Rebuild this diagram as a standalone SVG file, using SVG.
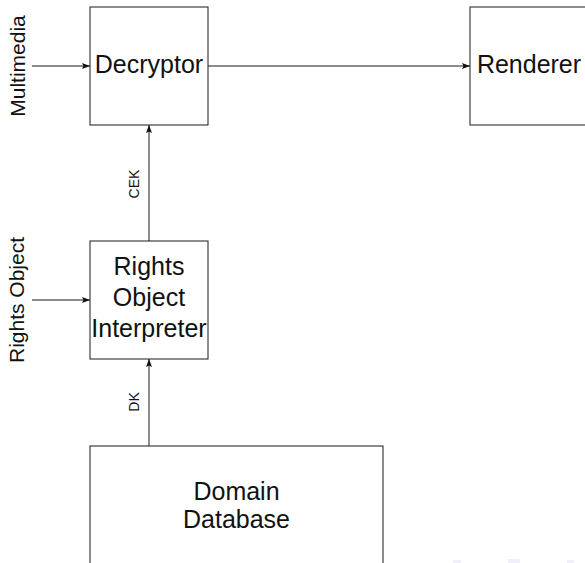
<svg xmlns="http://www.w3.org/2000/svg" width="585" height="563" viewBox="0 0 585 563">
  <defs>
    <style>
      .box { fill: #ffffff; stroke: #1a1a1a; stroke-width: 1; }
      .edge { fill: none; stroke: #1a1a1a; stroke-width: 1; }
      .big { font-family: "Liberation Sans", Arial, sans-serif; font-size: 25px; fill: #111; text-anchor: middle; }
      .side { font-family: "Liberation Sans", Arial, sans-serif; font-size: 21px; fill: #111; text-anchor: middle; }
      .small { font-family: "Liberation Sans", Arial, sans-serif; font-size: 14px; fill: #111; text-anchor: middle; }
      .nav { fill: #d4d4f2; opacity: 0.35; }
    </style>
    <marker id="arrow" viewBox="0 0 8 6" refX="8" refY="3" markerWidth="8" markerHeight="6" markerUnits="userSpaceOnUse" orient="auto">
      <path d="M0,0 L8,3 L0,6 L1.5,3 Z" fill="#111"/>
    </marker>
  </defs>

  <rect width="585" height="563" fill="#ffffff"/>

  <!-- nodes -->
  <g id="decryptor">
    <rect class="box" x="90" y="7" width="118" height="118"/>
    <text class="big" x="149" y="73">Decryptor</text>
  </g>

  <g id="renderer">
    <rect class="box" x="470" y="7" width="118" height="118"/>
    <text class="big" x="529" y="73">Renderer</text>
  </g>

  <g id="ro-interpreter">
    <rect class="box" x="90" y="241" width="118" height="118"/>
    <text class="big" x="149" y="275">Rights</text>
    <text class="big" x="149" y="306">Object</text>
    <text class="big" x="149" y="337">Interpreter</text>
  </g>

  <g id="domain-db">
    <rect class="box" x="90" y="446" width="293" height="120"/>
    <text class="big" x="236.5" y="500">Domain</text>
    <text class="big" x="236.5" y="528">Database</text>
  </g>

  <!-- connectors -->
  <g id="connectors">
    <line class="edge" x1="32" y1="66" x2="90" y2="66" marker-end="url(#arrow)"/>
    <line class="edge" x1="208" y1="66" x2="470" y2="66" marker-end="url(#arrow)"/>
    <line class="edge" x1="32" y1="300" x2="90" y2="300" marker-end="url(#arrow)"/>
    <line class="edge" x1="149" y1="241" x2="149" y2="125" marker-end="url(#arrow)"/>
    <line class="edge" x1="149" y1="446" x2="149" y2="359" marker-end="url(#arrow)"/>

    <text class="side" transform="translate(25,66) rotate(-90)">Multimedia</text>
    <text class="side" transform="translate(24,300) rotate(-90)">Rights Object</text>
    <text class="small" transform="translate(139,184) rotate(-90)">CEK</text>
    <text class="small" transform="translate(139,402) rotate(-90)">DK</text>
  </g>

  <!-- faint navigation symbols along the bottom edge -->
  <g id="nav-symbols">
    <rect class="nav" x="453" y="560" width="8" height="3"/>
    <rect class="nav" x="508" y="559" width="12" height="4"/>
    <rect class="nav" x="567" y="560" width="7" height="3"/>
  </g>
</svg>
